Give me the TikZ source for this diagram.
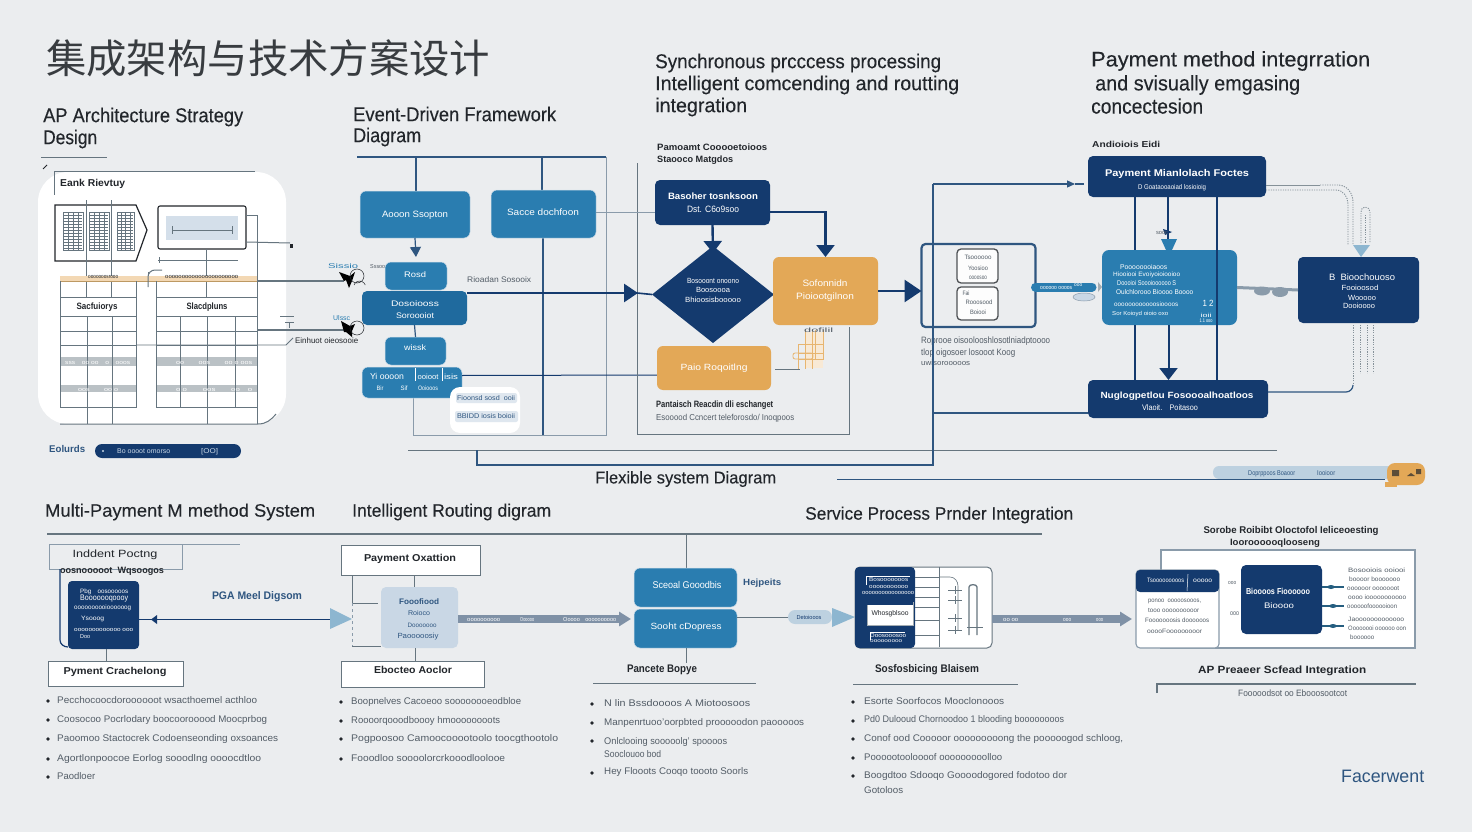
\documentclass[tikz,border=0pt]{standalone}
\usepackage{graphicx}
\usepackage{fontspec}
\setmainfont{Liberation Sans}
\newfontfamily\cjk{Noto Sans CJK SC}
\newfontfamily\hd[FakeBold=0.2]{Liberation Sans}
\usetikzlibrary{arrows.meta,shapes.geometric}
\definecolor{bg}{HTML}{EBEDEF}
\definecolor{navy}{HTML}{143A6E}
\definecolor{midb}{HTML}{2A7DB0}
\definecolor{midd}{HTML}{1F6A9E}
\definecolor{orng}{HTML}{E3A857}
\definecolor{lblue}{HTML}{BDD1E0}
\definecolor{pale}{HTML}{C9D7E5}
\definecolor{gline}{HTML}{66757F}
\definecolor{nline}{HTML}{2F5680}
\definecolor{fline}{HTML}{8A9BAA}
\definecolor{head}{HTML}{22262B}
\definecolor{body}{HTML}{525C66}
\definecolor{arrg}{HTML}{7F91A6}
\definecolor{lhead}{HTML}{8DB6D0}
\newsavebox\fitb
\newcounter{tn}
\newcommand\fitbox[2]{\sbox\fitb{\vphantom{Ag}#2}\scalebox{\fpeval{(#1)/(\the\wd\fitb)}}[1]{\usebox\fitb}}
\newcommand\szf[1]{\fpeval{(#1)<8.6?(#1)*1.15:(#1)}}
% left anchored: x1 y x2 size colour text
\newcommand\Tl[6]{\stepcounter{tn}\node[anchor=west,inner sep=0pt,text=#5] (t\arabic{tn}) at (#1,#2) {\fitbox{#3-#1}{\fontsize{\szf{#4}}{\szf{#4}}\selectfont #6}};}
% centred: cx y width size colour text
\newcommand\Tc[6]{\stepcounter{tn}\node[anchor=center,inner sep=0pt,text=#5] (t\arabic{tn}) at (#1,#2) {\fitbox{#3}{\fontsize{\szf{#4}}{\szf{#4}}\selectfont #6}};}
\newcommand\Bx[6]{\node[#6,outer sep=0pt,inner sep=0pt,minimum width=\fpeval{#4-#2}pt,minimum height=\fpeval{#5-#3}pt] (#1) at (\fpeval{(#2+#4)/2},\fpeval{(#3+#5)/2}) {};}
\newcommand\Bul[2]{\stepcounter{tn}\node[circle,fill=head,inner sep=0pt,minimum size=3.6pt] (t\arabic{tn}) at (#1,#2) {};}
\tikzset{
 navybox/.style={rectangle,fill=navy,rounded corners=5pt},
 midbox/.style={rectangle,fill=midb,draw=lblue!70,line width=.5pt,rounded corners=6pt},
 middbox/.style={rectangle,fill=midd,rounded corners=5pt},
 orbox/.style={rectangle,fill=orng,rounded corners=6pt},
 whbox/.style={rectangle,fill=white,draw=gline,line width=.9pt},
 thin1/.style={draw=fline,line width=1pt},
 gl/.style={draw=gline,line width=1pt},
 nl/.style={draw=nline,line width=1.2pt},
 dk/.style={draw=head,line width=.8pt},
 dot1/.style={draw=gline!80,line width=.9pt,dash pattern=on 1.2pt off 1.2pt},
 band/.style={draw=arrg,line width=8pt,-{Triangle[width=14pt,length=12pt]}},
}
\begin{document}
\begin{tikzpicture}[x=1pt,y=-1pt]
\useasboundingbox (0,0) rectangle (1472,832);
\fill[bg] (0,0) rectangle (1472,832);
% ---------- title
\node[anchor=west,inner sep=0pt,text=head!90] (title) at (46,58) {\fitbox{444}{\fontsize{40}{40}\selectfont\cjk 集成架构与技术方案设计}};
% ---------- headers
\Tl{43}{117}{243}{20}{head}{\hd AP Architecture Strategy}
\Tl{43}{139}{97}{20}{head}{\hd Design}
\Tl{353}{115}{556}{20}{head}{\hd Event-Driven Framework}
\Tl{353}{137}{421}{20}{head}{\hd Diagram}
\Tl{655}{63}{941}{20}{head}{\hd Synchronous prcccess processing}
\Tl{655}{85}{959}{20}{head}{\hd Intelligent comcending and routting}
\Tl{655}{107}{747}{20}{head}{\hd integration}
\Tl{1091}{61}{1370}{21}{head}{\hd Payment method integrration}
\Tl{1095}{85}{1300}{21}{head}{\hd and svisually emgasing}
\Tl{1091}{107}{1203}{21}{head}{\hd concectesion}
% ---------- white panel
\draw[gl] (41,157) -- (107,157);
\draw[head,line width=1pt] (43,169) -- (47,165);
\node[rectangle,fill=white,rounded corners=30pt,outer sep=0pt,inner sep=0pt,minimum width=248pt,minimum height=252pt] (panel) at (162,298) {};
\draw[gl] (55,171) -- (255,171);
\draw[gl] (54,171) -- (54,195);
\draw[gl] (60,424) -- (258,424) to[out=0,in=230] (276,414);
\Tl{60}{184}{125}{10}{head}{\bfseries Eank Rievtuy}
% pentagon
\draw[head,line width=1.2pt,fill=white] (55,205) -- (136,205) -- (147,230) -- (136,261) -- (55,261) -- cycle;
\foreach \xa/\xb in {63/83,89/109,117/134}{
  \fill[white] (\xa,212) rectangle (\xb,250);
  \draw[gline,line width=.7pt] (\xa,212) rectangle (\xb,250);
  \foreach \yy in {215,218,...,248}{\draw[gline,line width=.6pt] (\xa+1,\yy) -- (\xb-1,\yy);}
  \foreach \k in {1,2,3}{\draw[gline,line width=.5pt] ({\xa+\k*(\xb-\xa)/4},212) -- ({\xa+\k*(\xb-\xa)/4},250);}
}
\draw[gl] (86,200) -- (86,297); \draw[gl] (111,200) -- (111,297);
% right box
\Bx{pbox}{158}{206}{246}{249}{rectangle,fill=white,draw=head,line width=1.1pt,rounded corners=2pt}
\fill[pale!80] (166,216) rectangle (238,240);
\draw[gline,line width=.9pt] (172,230) -- (232,230);
\draw[gline,line width=.6pt] (172,226) -- (172,234) (232,226) -- (232,234);
\draw[gl] (246,215) -- (257,215) -- (257,424);
\coordinate (pfree) at (290,243);
\draw[gl] (246,242) -- (pfree);
\fill[head] (290,244) rectangle (293,248);
\draw[gl] (158,260) -- (238,260); \draw[gl] (159,257) -- (159,263);
\draw[gl] (206,249) -- (206,297);
% orange band
\fill[orng!45] (60,276) rectangle (257,281);
\draw[orng!70!gline,line width=.8pt] (60,281) -- (257,281);
\Tl{88}{276}{118}{5}{head}{ooooooosrooo}
\Tl{165}{276}{238}{5}{head}{oooooooooooooooooooooo}
\draw[gl] (148,287) -- (148,277) to[out=90,in=180] (155,270) -- (162,270);
\draw[gline,line width=.6pt] (148,272) -- (148,276);
% tables
\foreach \xl/\xr/\cols in {60/136/{87,112},156/257/{180,207,235}}{
  \fill[gline!45] (\xl,357) rectangle (\xr,366);
  \fill[gline!45] (\xl,385) rectangle (\xr,392);
  \draw[gl] (\xl,281) -- (\xl,407) -- (\xr,407) -- (\xr,281);
  \foreach \yy in {297,316,331,345,407}{\draw[gl] (\xl,\yy) -- (\xr,\yy);}
  \foreach \c in \cols {\draw[gl] (\c,316) -- (\c,407);}
}
\foreach \c in {87,112,207}{\draw[gl] (\c,407) -- (\c,424);}
\Tc{97}{307}{41}{8}{head}{\bfseries Sacfuiorys}
\Tc{207}{307}{41}{8}{head}{\bfseries Slacdpluns}
\Tl{65}{362}{130}{5}{white}{sss\quad oo oo\quad o\quad ooos}
\Tl{176}{362}{252}{5}{white}{oo\qquad oos\qquad oo o oos}
\Tl{78}{389}{118}{5}{white}{oos\qquad oo o}
\Tl{176}{389}{252}{5}{white}{o o\qquad oos\qquad oo\quad o}
% arrows from panel
\coordinate (aone) at (344,281); \coordinate (atwo) at (345,330);
\draw[gline,line width=1.1pt] (257,281) -- (aone);
\draw[gline,line width=1.1pt] (257,330) -- (atwo);
\draw[gline,line width=.8pt] (136,345) -- (286,345) -- (293,338);
\fill[black] (339,272) -- (350,276) -- (355,272) -- (352,281) -- (349,288) -- (346,280) -- (344,281) -- cycle;
\draw[head,line width=.5pt] (357,276) circle (7) (354,285) arc (200:340:6);
\fill[black] (341,321) -- (350,326) -- (355,324) -- (352,331) -- (352,337) -- (346,332) -- (344,332) -- cycle;
\draw[head,line width=.5pt] (357,328) circle (7);
\Tl{328}{266}{358}{6}{midb}{Sissio}
\Tl{370}{266}{385}{5}{body}{Sssoo}
\Tl{333}{318}{350}{6}{midb}{Ulssc}
\Tl{295}{341}{358}{7}{head}{Einhuot oieosooie}
\draw[gl] (280,316) -- (294,316); \draw[gl] (285,322) -- (294,322);\draw[gl] (289,322) -- (289,328);
\Tl{49}{450}{85}{8.5}{nline}{\bfseries Eolurds}
\Bx{pill1}{95}{444}{241}{458}{rectangle,fill=navy,rounded corners=7pt}
\Tl{117}{451}{170}{6}{pale}{Bo oooot omorso}
\Tl{201}{451}{218}{6}{pale}{{[}OO{]}}
\fill[pale] (103,451) circle (1.2);
% ---------- event frame
\draw[nl] (357,157) -- (606,157);
\draw[thin1] (606,157) -- (606,435) -- (413,435) -- (413,398);
\draw[nl] (542,157) -- (542,190);
\draw[nl] (416,157) -- (416,191);
\draw[nl] (543,238) -- (543,435);
\Bx{ba}{360}{191}{470}{238}{midbox}
\Bx{bb}{491}{190}{596}{238}{midbox}
\Bx{bc}{385}{262}{447}{290}{midbox}
\Bx{bd}{362}{291}{467}{325}{middbox}
\Bx{be}{385}{337}{446}{365}{midbox}
\Bx{bf}{362}{367}{462}{398}{midbox}
\draw[nl,-{Triangle[width=11pt,length=10pt]}] (ba.south) ++(0,0) -- ([yshift=5pt]bc.north);
\draw[nl] (bd.south) -- (be.north);
\draw[navy,line width=1pt] (bf.east) ++(0,-7) -- (658,375);
\Tc{415}{215}{66}{8}{white}{Aooon Ssopton}
\Tc{543}{213}{72}{8}{white}{Sacce dochfoon}
\Tc{415}{275}{22}{7}{white}{Rosd}
\Tc{415}{304}{48}{7}{white}{Dosoiooss}
\Tc{415}{316}{38}{7}{white}{Soroooiot}
\Tc{415}{348}{22}{7}{white}{wissk}
\Tc{387}{377}{34}{7.5}{white}{Yi oooon}
\Tc{428}{377}{21}{6.5}{white}{ooioot}
\Tc{451}{377}{14}{6.5}{white}{isis}
\Tc{380}{388}{7}{5.5}{white}{Bir}
\Tc{404}{388}{7}{5.5}{white}{Sif}
\Tc{428}{388}{20}{5.5}{white}{Ooiooos}
\draw[white,line width=.5pt] (415,368) -- (415,381) (442,368) -- (442,381);
\Tl{467}{280}{531}{7}{body}{Rioadan Sosooix}
\node[rectangle,fill=white,rounded corners=10pt,outer sep=0pt,minimum width=70pt,minimum height=46pt,inner sep=0pt] (chips) at (485,410) {};
\Bx{cha}{456}{393}{517}{403}{rectangle,fill=pale!60,rounded corners=2pt}
\Bx{chb}{455}{411}{518}{422}{rectangle,fill=pale!60,rounded corners=2pt}
\Tc{486}{398}{58}{6}{nline}{Fioonsd sosd\ \ ooii}
\Tc{486}{416}{58}{6}{nline}{BBIDD iosis boioii}
% thick arrow
\draw[navy,line width=2.8pt,-{Triangle[width=18pt,length=14pt]}] ([yshift=15pt]bd.east) -- (638,293);
% ---------- section 3 frame
\Tl{657}{148}{767}{8}{head}{\bfseries Pamoamt Cooooetoioos}
\Tl{657}{160}{733}{8}{head}{\bfseries Staooco Matgdos}
\draw[gl] (637,163) -- (637,434) -- (849,434) -- (849,327);
\Bx{na}{655}{180}{770}{225}{navybox}
\node[diamond,fill=navy,inner sep=0pt,outer sep=0pt,minimum width=122pt,minimum height=97pt] (dia) at (713,294.5) {};
\Bx{oa}{773}{257}{878}{325}{orbox}
\Bx{ob}{657}{346}{771}{390}{orbox}
\draw[thin1] ([yshift=1.5pt]bb.east) -- ([yshift=-10pt]na.west);
\draw[navy,line width=1.6pt] (637,293) -- (dia.west);
\draw[navy,line width=2.4pt,-{Triangle[width=18pt,length=12pt]}] (na.south) -- (713,253);
\draw[navy,line width=2.4pt,-{Triangle[width=18pt,length=12pt]}] ([yshift=-9.5pt]na.east) -| (oa.north);
\Tc{713}{197}{90}{8}{white}{\bfseries Basoher tosnksoon}
\Tc{713}{210}{52}{8}{white}{Dst. C6o9soo}
\Tc{713}{281}{52}{6.5}{white}{Bosooont onoono}
\Tc{713}{290}{34}{6.5}{white}{Boosoooa}
\Tc{713}{300}{56}{6.5}{white}{Bhioosisbooooo}
\Tc{825}{284}{45}{8}{white}{Sofonnidn}
\Tc{825}{297}{58}{8}{white}{Pioiootgilnon}
\Tc{714}{368}{67}{9}{white}{Paio Roqoitlng}
% gold grid
\fill[orng!25] (805,332) rectangle (823,368);
\draw[orng!85,line width=.8pt] (798,344) -- (798,369) (805,330) -- (805,369) (812,330) -- (812,369) (815,330) -- (815,360) (823,330) -- (823,360);
\draw[orng!85,line width=.8pt] (798,344) -- (823,344) (798,353) -- (823,353) (798,359) -- (823,359);
\draw[orng!85,line width=.8pt,rounded corners=2pt] (793,353) rectangle (813,359);
\Tl{804}{330}{833}{5.5}{body}{dofilil}
\draw[gl] ([yshift=-1pt,xshift=4pt]ob.east) -- (800,369);
\Tl{656}{405}{773}{8}{head}{\bfseries Pantaisch Reacdin dli eschanget}
\Tl{656}{418}{794}{7.5}{body}{Esooood Ccncert teleforosdo/ Inoqpoos}
% frame box F
\Bx{fb}{921.5}{244}{1035.5}{327}{rectangle,draw=nline,line width=2.2pt,rounded corners=4pt}
\Bx{fa1}{957}{249}{998}{283}{rectangle,fill=white!90!bg,draw=head!80,line width=1.3pt,rounded corners=4pt}
\Bx{fa2}{957}{287}{998}{320}{rectangle,fill=white!90!bg,draw=head!80,line width=1.3pt,rounded corners=4pt}
\Tc{978}{257}{27}{5.5}{body}{Tsoooooo}
\Tc{978}{268}{20}{5.5}{body}{Yoosioo}
\Tc{978}{277}{18}{5.5}{body}{oooosoo}
\Tc{966}{293}{7}{5.5}{body}{Fai}
\Tc{979}{302}{27}{5.5}{body}{Rooosood}
\Tc{978}{312}{16}{5.5}{body}{Boiooi}
\draw[navy,line width=2.8pt,-{Triangle[width=22pt,length=17pt]}] (oa.east) -- ([yshift=-5.5pt]fb.west);
\Tl{921}{341}{1050}{8}{body}{Roprooe oisoolooshlosotlniadptoooo}
\Tl{921}{353}{1015}{8}{body}{tlop oigosoer losooot Koog}
\Tl{921}{363}{970}{6.5}{body}{uwisorooooos}
% long lines
\draw[gl] (408,450) -- (1277,450);
\draw[nl] (477,450) -- (477,465) -- (933,465) -- (933,184);
\coordinate (gfree) at (1084,184);
\draw[nl,-{Triangle[width=7pt,length=8pt]}] (933,184) -- (1075,184);
\draw[nl] (1075,184) -- (gfree);
\draw[nl] (933,413) -- (1088,413);
\Tl{595}{479}{776}{17}{head}{\hd Flexible system Diagram}
% ---------- section 4
\Tl{1092}{145}{1160}{7.5}{head}{\bfseries Andioiois Eidi}
\Bx{nb}{1088}{156}{1266}{197}{navybox}
\Bx{nc}{1102}{250}{1237}{325}{rectangle,fill=midb,rounded corners=7pt}
\Bx{nd}{1088}{380}{1268}{418}{navybox}
\Bx{ne}{1298}{257}{1419}{323}{navybox}
\draw[nl,draw=navy,line width=1.5pt] (1135,197) -- (1135,250) (1135,325) -- (1135,380);
\draw[navy,line width=1.5pt] (1168,197) -- (1168,240);
\draw[navy,line width=2pt,-{Triangle[width=18pt,length=12pt]}] (1168.5,325) -- (1168.5,380);
\fill[midb] (1161,239) -- (1177,239) -- (1172,250) -- (1166,250) -- cycle;
\draw[navy,line width=1.5pt] (1217,197) -- (1217,380);
\fill[navy] (1163,229) -- (1172,232) -- (1165,235) -- cycle;
\Tc{1162}{232}{12}{5}{body}{sooc}
\Tc{1177}{174}{144}{8.5}{white}{\bfseries Payment Mianlolach Foctes}
\Tc{1172}{187}{68}{6}{white}{D Goataooaoiad losioioig}
\Tl{1120}{267}{1167}{6}{white}{Poooooooiaoos}
\Tl{1113}{274}{1180}{5.5}{white}{Hiooiooi Evoiyoioiooioo}
\Tl{1117}{283}{1176}{6}{white}{Doooioi Soooioooooo S}
\Tl{1116}{292}{1193}{6}{white}{Oulchlorooo Bioooo Boooo}
\Tl{1114}{304}{1178}{5.5}{white}{oooooooooooosioooos}
\Tl{1112}{313}{1168}{5}{white}{Sor Koioyd oioio oxo}
\Tc{1208}{304}{11}{9}{white}{1 2}
\Tc{1206}{315}{11}{5}{white}{ioii}
\Tc{1206}{320}{13}{4.5}{white}{1.1 ooo}
\Tc{1177}{396}{153}{9}{white}{\bfseries Nuglogpetlou Fosoooalhoatloos}
\Tc{1170}{408}{56}{7}{white}{Vlaoit.\quad Poitasoo}
\Tc{1362}{278}{66}{8}{white}{B\ \ Bioochouoso}
\Tc{1360}{288}{37}{6.5}{white}{Fooioosod}
\Tc{1362}{298}{28}{6.5}{white}{Wooooo}
\Tc{1359}{306}{32}{6.5}{white}{Dooioooo}
% pill F -> C
\draw[midb,line width=9pt,line cap=round] (fb.east) ++(0,1.5) -- (1092,287);
\fill[gline!60] (1098,282) -- (1102,287) -- (1098,292) -- cycle;
\Tl{1040}{287}{1072}{5}{white}{oooooo oooos}
\Tl{1074}{284}{1082}{4.5}{white}{ooo}
\node[ellipse,draw=fline,fill=pale,line width=.5pt,inner sep=0pt,minimum width=22pt,minimum height=8pt] (oval) at (1084,297) {};
% C -> E blobs
\draw[fline,line width=3pt] (nc.east) -- (ne.west);
\fill[fline] (1262,291) ellipse (8 and 4.5);
\fill[fline] (1280,292) ellipse (8 and 5);
% dotted links
\draw[gline!80,line width=1pt] ([yshift=-8.5pt]nb.east) -- (1320,185);
\draw[dot1] (1320,185) -- (1338,185) to[out=0,in=90] (1353,202) -- (1353,245);
\draw[dot1] ([yshift=-13.5pt]nb.east) -- (1336,190) to[out=0,in=90] (1348,204) -- (1348,245);
\draw[dot1] (1361,243) -- (1361,212) to[out=90,in=180] (1365,207) to[out=0,in=90] (1370,212) -- (1370,243);
\draw[dot1] (1365,215) -- (1365,243);
\fill[lhead] (1353,245) -- (1370,245) -- (1361,257) -- cycle;
\draw[dot1] (1353,325) -- (1353,385);
\draw[nl] (1353,385) to[out=270,in=0] (1346,392) -- ([yshift=7pt]nd.east);
\foreach \xx in {1360,1367,1373}{\draw[dot1] (\xx,325) -- (\xx,373);}
% bottom right pill
\Bx{pill2}{1213}{466}{1395}{479}{rectangle,fill=lblue,rounded corners=6pt}
\draw[nl] (837,479.5) -- (1385,479.5);
\Tl{1248}{473}{1295}{6}{nline}{Doprppoos Boaoor}
\Tl{1317}{473}{1335}{6}{nline}{Iooioor}
\node[rectangle,fill=orng,rounded corners=8pt,outer sep=0pt,inner sep=0pt,minimum width=38pt,minimum height=22pt] (blob) at (1406,474) {};
\fill[orng] (1385,482) rectangle (1397,487);
\fill[head!70!orng] (1392,470) rectangle (1399,476) (1407,476) -- (1411,473) -- (1415,476) -- cycle (1416,469) rectangle (1421,474);
% ---------- lower headers
\Tl{45}{512}{315}{18}{head}{\hd Multi-Payment M method System}
\Tl{352}{512}{551}{18}{head}{\hd Intelligent Routing digram}
\Tl{805}{515}{1073}{18}{head}{\hd Service Process Prnder Integration}
\draw[gline,line width=1.1pt] (47,534) -- (1042,534);
% lower col 1
\draw[fline] (49,544) -- (240,544);
\draw[fline] (49,544) -- (49,569) -- (182,569) -- (182,544);
\Tc{115}{555}{85}{10.5}{head}{Inddent Poctng}
\Tc{112}{571}{104}{8}{head}{\bfseries oosnooooot\ \ Wqsoogos}
\draw[nl,draw=navy] (60,569) -- (60,640) to[out=270,in=180] (68,647);
\Bx{da}{68}{581}{139}{649}{rectangle,fill=navy,rounded corners=4pt}
\Tl{80}{591}{128}{5.5}{white}{Pbg\quad oosooooos}
\Tl{80}{598}{128}{7}{white}{Booooooqoooy}
\Tl{74}{607}{131}{5.5}{white}{oooooooooioooooog}
\Tl{81}{618}{104}{5.5}{white}{Ysooog}
\Tl{74}{629}{133}{5}{white}{ooooooooooooo ooo}
\Tl{80}{636}{90}{5}{white}{Doo}
\Tc{257}{597}{90}{11}{nline}{\bfseries PGA Meel Digsom}
\Bx{bo1}{341}{545}{480}{575}{whbox}
\Bx{bo2}{381}{587}{458}{648}{rectangle,fill=pale,rounded corners=5pt}
\Bx{bo3}{341}{661}{484}{687}{whbox}
\Bx{bo4}{48}{661}{183}{686}{whbox}
\draw[navy,line width=1.8pt] (da.east) ++(0,4.5) -- (335,619.5);
\fill[navy] (151,619.5) -- (157,615) -- (157,624) -- cycle;
\fill[lhead] (330,608) -- (352,619) -- (330,629) -- cycle;
\draw[gline,line width=.9pt] (106,649) -- (106,661);
\Tc{115}{672}{103}{10}{head}{\bfseries Pyment Crachelong}
\Tc{410}{559}{92}{10}{head}{\bfseries Payment Oxattion}
\Tc{413}{671}{78}{10}{head}{\bfseries Ebocteo Aoclor}
\draw[gline,line width=.9pt] (414,575) -- (414,587);
\draw[gline,line width=.9pt] (415,648) -- (415,661);
\draw[gline,line width=1pt] (352,575) -- (352,603) -- (378,603);
\draw[fline,line width=1pt,dashed] (352,603) -- (352,646);
\draw[gline,line width=1pt] (352,646) -- (381,646);
\Tc{419}{602}{40}{7}{nline}{\bfseries Fooofiood}
\Tc{419}{613}{22}{6}{nline}{Roioco}
\Tc{422}{625}{29}{5.5}{nline}{Dooooooo}
\Tc{418}{636}{41}{6.5}{nline}{Paooooosiy}
\draw[band] (bo2.east) ++(0,1.5) -- (631,619);
\Tl{467}{619}{500}{5}{white}{oooooooooo}
\Tl{520}{619}{534}{5}{white}{Oooooo}
\Tl{563}{619}{616}{5}{white}{Ooooo\quad oooooooooo}
% lower col 3
\draw[gl] (686,534) -- (686,568);
\Bx{ca}{634}{568}{737}{607}{midbox}
\Bx{cb}{634}{609}{737}{648}{midbox}
\draw[gl] (686,648) -- (686,663);
\Tc{687}{586}{69}{8.5}{white}{Sceoal Gooodbis}
\Tc{686}{627}{71}{9}{white}{Sooht cDopress}
\Tl{743}{583}{781}{9}{nline}{\bfseries Hejpeits}
\Tc{662}{670}{70}{11}{head}{\bfseries Pancete Bopye}
\draw[gl] (593,683) -- (756,683);
\Bx{pl3}{788}{610}{832}{624}{rectangle,fill=lblue,rounded corners=7pt}
\draw[gl] ([yshift=11.5pt]cb.east) -- (pl3.west);
\fill[lhead] (832,608) -- (855,617) -- (832,627) -- cycle;
\Tc{809}{617}{25}{5}{navy}{Detoiooos}
% box G
\Bx{gb}{855}{567}{992}{648}{rectangle,fill=white,draw=gline,line width=1pt,rounded corners=5pt}
\fill[navy,rounded corners=4pt] (855,567) -- (915,567) -- (915,648) -- (855,648) -- cycle;
\draw[gl] (939,567) -- (939,647);
\foreach \yy in {577,587,597,607,620,635}{\draw[gline,line width=.8pt] (915,\yy) -- (939,\yy);}
\Bx{gc}{867}{602}{913}{625}{rectangle,fill=white,draw=gline!60,line width=.5pt}
\fill[navy] (867,602) rectangle (913,605);
\Tc{890}{613}{37}{6}{head}{Whosgblsoo}
\draw[white,line width=.5pt] (866,585) -- (866,576) -- (910,576);
\Tl{869}{579}{908}{5}{white}{Bosooooooos}
\Tl{869}{586}{908}{5}{white}{ooooooooooo}
\Tl{862}{592}{914}{5}{white}{oooooooooooooooo}
\Tl{870}{635}{906}{5}{white}{Doosooosoo}
\Tl{870}{640}{902}{4.5}{white}{ooooooooo}
\draw[white,line width=.4pt] (870,640) -- (870,632) -- (905,632);
\draw[gline,line width=1.3pt] (969,635) -- (969,587) to[out=90,in=90] (977,587) -- (977,635);
\draw[gline,line width=1pt] (967,627) -- (983,627);
\foreach \yy in {590,600,618,630}{\draw[gline,line width=.7pt] (948,\yy) -- (962,\yy) (955,\yy-4) -- (955,\yy+4);}
\draw[gline,line width=.6pt] (939,577) -- (950,577) to[out=0,in=90] (958,586) -- (958,630);
\Tc{927}{670}{104}{11}{head}{\bfseries Sosfosbicing Blaisem}
\draw[gl] (853,684) -- (1018,684);
% right panel
\Tc{1291}{531}{175}{8.5}{head}{\bfseries Sorobe Roibibt Oloctofol Ieliceoesting}
\Tc{1275}{543}{90}{8}{head}{\bfseries Iooroooooqlooseng}
\Bx{ra}{1161}{550}{1415}{648}{rectangle,fill=white,draw=fline,line width=1.2pt}
\Bx{rb}{1136}{570}{1219}{648}{rectangle,fill=white,draw=fline,line width=1.1pt,rounded corners=4pt}
\fill[navy,rounded corners=4pt] (1136,592) -- (1136,570) -- (1219,570) -- (1219,592) -- cycle;
\Bx{rc}{1241}{565}{1322}{634}{navybox}
\draw[band] ([yshift=-11.5pt]gb.east) -- (1132,619);
\Tl{1003}{619}{1018}{5}{white}{oo oo}
\Tl{1063}{619}{1071}{5}{white}{ooo}
\Tl{1096}{619}{1103}{5}{white}{ooo}
\Tl{1147}{580}{1184}{5.5}{white}{Tsooooooooos}
\draw[white,line width=.5pt] (1188,574) -- (1187,591);
\Tl{1193}{580}{1212}{5.5}{white}{ooooo}
\Tl{1148}{600}{1201}{5.5}{body}{ponoo\ \ ooooosooos,}
\Tl{1148}{610}{1199}{5.5}{body}{tooo oooooooooor}
\Tl{1145}{620}{1209}{5.5}{body}{Fooooooosis doooooos}
\Tl{1147}{631}{1202}{5.5}{body}{ooooFooooooooor}
\Tc{1278}{592}{64}{7.5}{white}{\bfseries Bioooos Fioooooo}
\Tc{1279}{606}{30}{7}{white}{Bioooo}
\Tl{1228}{582}{1236}{5}{body}{ooo}
\Tl{1230}{613}{1239}{6}{body}{ooo}
\foreach \yy/\xx in {587/1331,606/1333,626/1333}{
  \coordinate (rn\yy) at (1344,\yy);
  \draw[nl,draw=nline!80!teal] (1322,\yy) -- (rn\yy);
  \fill[nline!80!teal] (\xx,\yy) ellipse (3.5 and 2);
}
\Tl{1348}{570}{1405}{5.5}{body}{Bosooiois ooiooi}
\Tl{1349}{579}{1400}{5.5}{body}{boooor booooooo}
\Tl{1347}{588}{1399}{5.5}{body}{oooooor ooooooot}
\Tl{1348}{597}{1406}{5.5}{body}{oooo iooooooooooo}
\Tl{1347}{606}{1397}{5.5}{body}{oooooofoooooioon}
\Tl{1348}{619}{1404}{5.5}{body}{Jaooooooooooooo}
\Tl{1348}{628}{1406}{5.5}{body}{Oooooooi oooooo oon}
\Tl{1350}{637}{1374}{5.5}{body}{boooooo}
\Tl{1198}{671}{1366}{10.5}{head}{\bfseries AP Preaeer Scfead Integration}
\draw[gline,line width=1.1pt] (1157,693) -- (1157,684) -- (1416,684);
\Tl{1238}{694}{1347}{8}{body}{Fooooodsot oo Ebooosootcot}
\Tl{1341}{777}{1424}{18}{nline}{Facerwent}
% ---------- bullets
\foreach \yy in {701,720,739,759,777}{\Bul{48}{\yy}}
\Tl{57}{701}{257}{9.6}{body}{Pecchocoocdoroooooot wsacthoemel acthloo}
\Tl{57}{720}{267}{9.6}{body}{Coosocoo Pocrlodary boocoorooood Moocprbog}
\Tl{57}{739}{278}{9.6}{body}{Paoomoo Stactocrek Codoenseonding oxsoances}
\Tl{57}{759}{261}{9.6}{body}{Agortlonpoocoe Eorlog sooodlng oooocdtloo}
\Tl{57}{777}{95}{9.6}{body}{Paodloer}
\foreach \yy in {702,721,739,759}{\Bul{341}{\yy}}
\Tl{351}{702}{521}{9.6}{body}{Boopnelves Cacoeoo soooooooeodbloe}
\Tl{351}{721}{500}{9.6}{body}{Roooorqooodboooy hmoooooooots}
\Tl{351}{739}{558}{9.6}{body}{Pogpoosoo Camoocooootoolo toocgthootolo}
\Tl{351}{759}{505}{9.6}{body}{Fooodloo soooolorcrkooodloolooe}
\foreach \yy in {704,723,741,773}{\Bul{592}{\yy}}
\Tl{604}{704}{750}{9.6}{body}{N lin Bssdoooos A Miotoosoos}
\Tl{604}{723}{804}{9.6}{body}{Manpenrtuoo'oorpbted prooooodon paooooos}
\Tl{604}{742}{727}{9.6}{body}{Onlclooing sooooolg' spoooos}
\Tl{604}{755}{661}{9.6}{body}{Sooclouoo bod}
\Tl{604}{772}{748}{9.6}{body}{Hey Flooots Cooqo toooto Soorls}
\foreach \yy in {702,721,739,758,776}{\Bul{853}{\yy}}
\Tl{864}{702}{1004}{9.6}{body}{Esorte Soorfocos Mooclonooos}
\Tl{864}{720}{1064}{9.6}{body}{Pd0 Dulooud Chornoodoo 1 blooding boooooooos}
\Tl{864}{739}{1123}{9.6}{body}{Conof ood Cooooor ooooooooong the pooooogod schloog,}
\Tl{864}{758}{1002}{9.6}{body}{Poooootooloooof ooooooooolloo}
\Tl{864}{776}{1067}{9.6}{body}{Boogdtoo Sdooqo Goooodogored fodotoo dor}
\Tl{864}{791}{903}{9.6}{body}{Gotoloos}
\end{tikzpicture}
\end{document}
